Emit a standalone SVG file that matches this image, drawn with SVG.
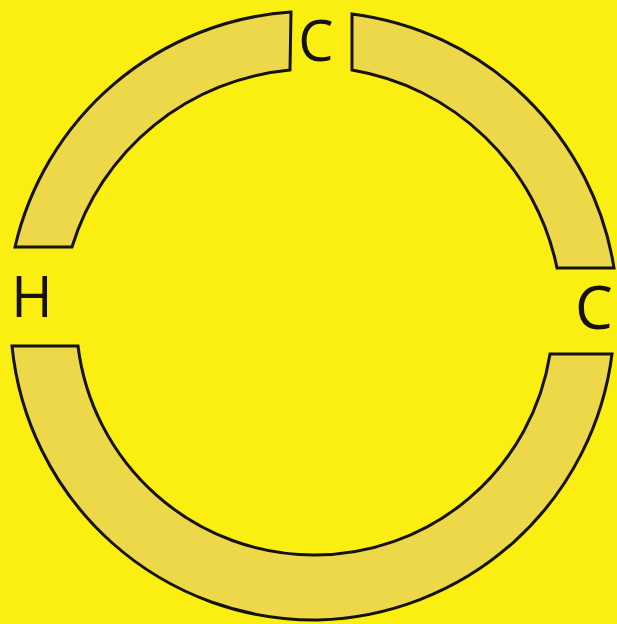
<svg xmlns="http://www.w3.org/2000/svg" width="617" height="624" viewBox="0 0 617 624">
  <style>
    .seg { fill: #EDD84A; stroke: #151210; stroke-width: 3; stroke-linejoin: miter; }
    .lbl { font-family: "Open Sans", "Liberation Sans", sans-serif; fill: #141110; text-anchor: middle; }
  </style>
  <rect x="0" y="0" width="617" height="624" fill="#FBEF12"/>
  <g id="segments">
    <g id="seg-top-left">
      <path class="seg" d="M15,247 A304,304 0 0,1 291,12 L290,70 A252,252 0 0,0 72,247 Z"/>
    </g>
    <g id="seg-top-right">
      <path class="seg" d="M352,14 A304,304 0 0,1 614,268 L557,268 A252,252 0 0,0 352,70 Z"/>
    </g>
    <g id="seg-bottom">
      <path class="seg" d="M612,354 A304,304 0 0,1 318,620 A304,304 0 0,1 12,346 L78,346 A238,238 0 0,0 314,555 A238,238 0 0,0 550,354 Z"/>
    </g>
  </g>
  <g id="label-C-top"><text class="lbl" x="316" y="61" font-size="56">C</text></g>
  <g id="label-H"><text class="lbl" x="32" y="317" font-size="56">H</text></g>
  <g id="label-C-right"><text class="lbl" x="594" y="329" font-size="60">C</text></g>
</svg>
